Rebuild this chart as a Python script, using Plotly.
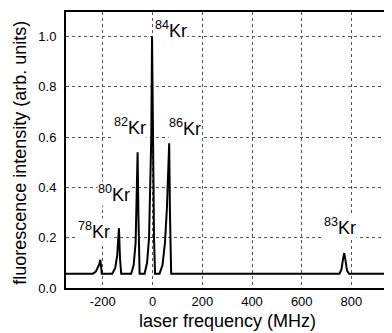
import plotly.graph_objects as go

# spectrum trace (MHz, arb. units)
freq = [-350, -240, -228, -220, -214, -210, -207, -204,
        -162, -150, -142, -138, -135, -131, -126,
        -86, -76, -68, -63, -60, -57, -52,
        -32, -22, -14, -8, -5, -2, 2, 6, 10,
        28, 40, 50, 58, 63, 67, 70, 75,
        752, 760, 766, 771, 776, 782, 790, 955]
intensity = [0.057, 0.057, 0.065, 0.08, 0.095, 0.112, 0.08, 0.057,
             0.057, 0.08, 0.13, 0.18, 0.238, 0.12, 0.057,
             0.057, 0.09, 0.18, 0.35, 0.54, 0.3, 0.057,
             0.057, 0.1, 0.2, 0.4, 0.6, 1.0, 0.5, 0.2, 0.057,
             0.057, 0.09, 0.18, 0.32, 0.45, 0.576, 0.3, 0.057,
             0.057, 0.075, 0.115, 0.139, 0.11, 0.07, 0.057, 0.057]

# isotope labels
iso_mass = ["78", "80", "82", "84", "86", "83"]
label_x = [-305, -224, -160, 5, 62, 686]
label_y = [0.228, 0.375, 0.641, 1.027, 0.637, 0.246]

x_ticks = [-200, 0, 200, 400, 600, 800]
y_ticks = [0.0, 0.2, 0.4, 0.6, 0.8, 1.0]

x_title = "laser frequency (MHz)"
y_title = "fluorescence intensity (arb. units)"

FONT = "Liberation Sans"

fig = go.Figure()
fig.add_trace(go.Scatter(x=freq, y=intensity, mode="lines",
                         line=dict(color="black", width=2),
                         showlegend=False, hoverinfo="skip"))

for m, lx, ly in zip(iso_mass, label_x, label_y):
    fig.add_annotation(x=lx, y=ly, text=f"<sup>{m}</sup>Kr", showarrow=False,
                       xanchor="left", yanchor="middle", bgcolor="white",
                       borderpad=0,
                       font=dict(family=FONT, size=18, color="black"))

# axis titles placed as paper annotations
fig.add_annotation(xref="paper", yref="paper", x=0.497, y=-0.118,
                   text=x_title, showarrow=False, xanchor="center", yanchor="middle",
                   font=dict(family=FONT, size=18, color="black"))
fig.add_annotation(xref="paper", yref="paper", x=-0.142, y=0.49,
                   text=y_title, showarrow=False, xanchor="center", yanchor="middle",
                   textangle=-90,
                   font=dict(family=FONT, size=18, color="black"))

axis_common = dict(showline=True, linecolor="black", linewidth=2, mirror=True,
                   showgrid=True, gridcolor="#555", griddash="dot", gridwidth=1,
                   zeroline=False, ticks="", automargin=False,
                   tickfont=dict(family=FONT, size=13, color="black"))

fig.update_xaxes(range=[-348, 955], tickvals=x_ticks,
                 ticktext=[str(v) for v in x_ticks], ticklabelstandoff=0,
                 **axis_common)
fig.update_yaxes(range=[0, 1.098], tickvals=y_ticks,
                 ticktext=[f"{v:.1f}" for v in y_ticks], ticklabelstandoff=5,
                 **axis_common)

# the page body adds an 8px offset, so the figure is 8px smaller on each axis
fig.update_layout(width=384, height=325, margin=dict(l=58, r=2, t=4, b=45),
                  paper_bgcolor="white", plot_bgcolor="white",
                  font=dict(family=FONT, color="black"))

fig.write_html("out.html")
